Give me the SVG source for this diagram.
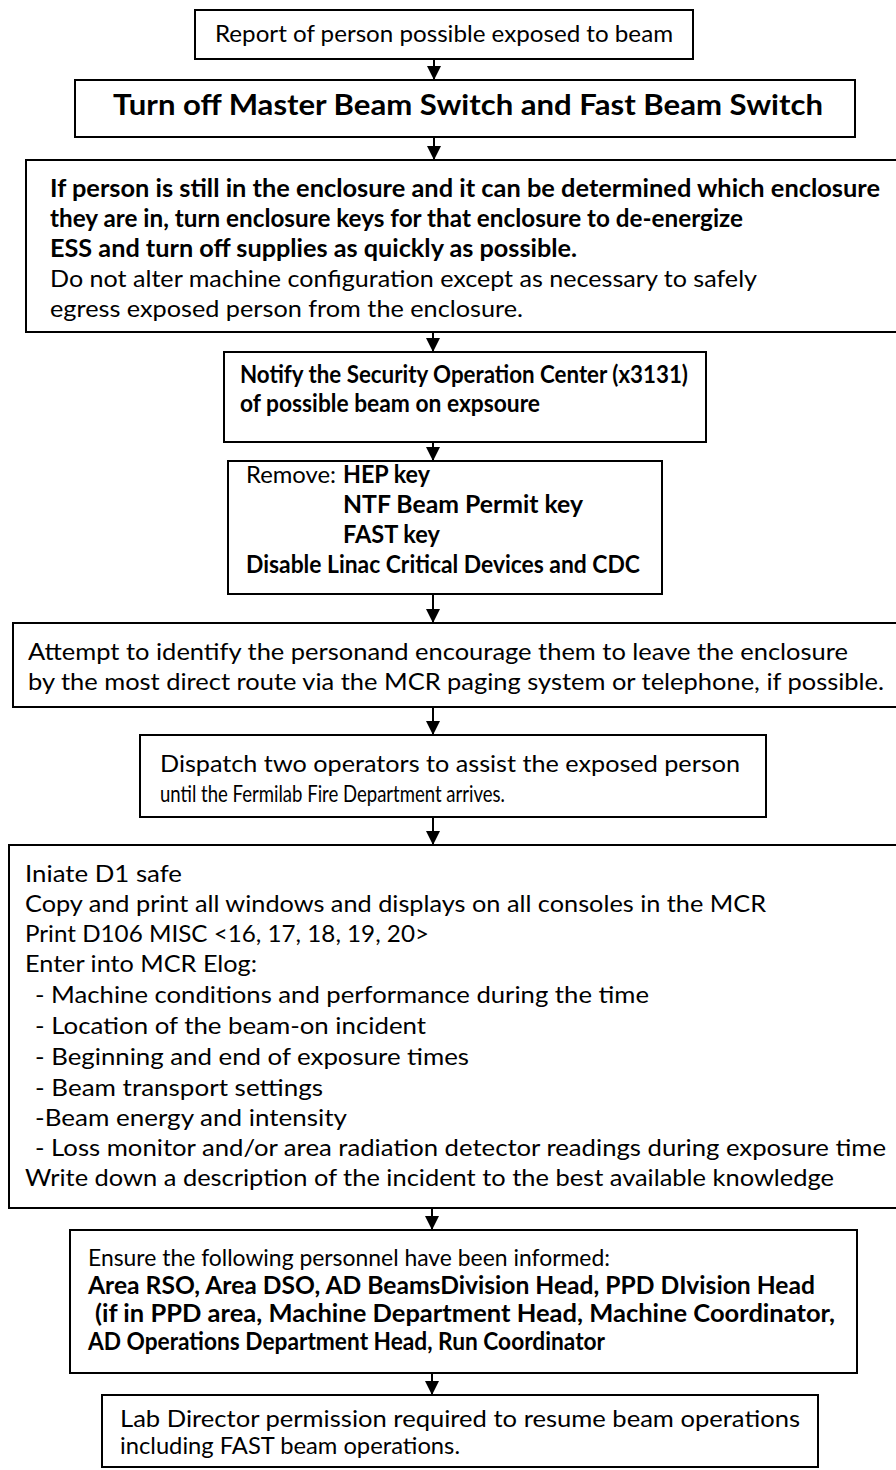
<svg xmlns="http://www.w3.org/2000/svg" width="896" height="1470" viewBox="0 0 896 1470">
<defs>
<style>
.box{fill:#fff;stroke:#000;stroke-width:2}
.t{font-family:Lato,"Liberation Sans",sans-serif;font-size:24px;fill:#000}
.b{font-weight:bold}
.big{font-size:28px}
.con line{stroke:#000;stroke-width:2}
</style>
<marker id="ah" markerUnits="userSpaceOnUse" markerWidth="14" markerHeight="14" viewBox="0 0 14 14" refX="14" refY="7" orient="auto">
<path d="M0,0 L14,7 L0,14 z" fill="#000"/>
</marker>
</defs>
<rect width="896" height="1470" fill="#fff"/>
<g id="connectors" class="con">
<line x1="434" y1="59" x2="434" y2="80" marker-end="url(#ah)"/>
<line x1="434" y1="137" x2="434" y2="160" marker-end="url(#ah)"/>
<line x1="433" y1="332" x2="433" y2="352" marker-end="url(#ah)"/>
<line x1="433" y1="442" x2="433" y2="461" marker-end="url(#ah)"/>
<line x1="433" y1="594" x2="433" y2="623" marker-end="url(#ah)"/>
<line x1="433" y1="707" x2="433" y2="735" marker-end="url(#ah)"/>
<line x1="433" y1="817" x2="433" y2="845" marker-end="url(#ah)"/>
<line x1="432" y1="1208" x2="432" y2="1230" marker-end="url(#ah)"/>
<line x1="432" y1="1373" x2="432" y2="1395" marker-end="url(#ah)"/>
</g>
<g id="n1">
<rect class="box" x="195" y="10" width="498" height="49"/>
<text class="t" x="215" y="42" textLength="458" lengthAdjust="spacingAndGlyphs">Report of person possible exposed to beam</text>
</g>
<g id="n2">
<rect class="box" x="75" y="80" width="780" height="57"/>
<text class="t b big" x="113" y="115" textLength="710" lengthAdjust="spacingAndGlyphs">Turn off Master Beam Switch and Fast Beam Switch</text>
</g>
<g id="n3">
<rect class="box" x="26" y="160" width="880" height="172"/>
<text class="t b" x="50" y="197" textLength="830" lengthAdjust="spacingAndGlyphs">If person is still in the enclosure and it can be determined which enclosure</text>
<text class="t b" x="50" y="227" textLength="693" lengthAdjust="spacingAndGlyphs">they are in, turn enclosure keys for that enclosure to de-energize</text>
<text class="t b" x="50" y="257" textLength="527" lengthAdjust="spacingAndGlyphs">ESS and turn off supplies as quickly as possible.</text>
<text class="t" x="50" y="287" textLength="707" lengthAdjust="spacingAndGlyphs">Do not alter machine configuration except as necessary to safely</text>
<text class="t" x="50" y="317" textLength="473" lengthAdjust="spacingAndGlyphs">egress exposed person from the enclosure.</text>
</g>
<g id="n4">
<rect class="box" x="224" y="352" width="482" height="90"/>
<text class="t b" x="240" y="383" textLength="448" lengthAdjust="spacingAndGlyphs">Notify the Security Operation Center (x3131)</text>
<text class="t b" x="240" y="412" textLength="300" lengthAdjust="spacingAndGlyphs">of possible beam on expsoure</text>
</g>
<g id="n5">
<rect class="box" x="228" y="461" width="434" height="133"/>
<text class="t" x="246" y="483" textLength="90" lengthAdjust="spacingAndGlyphs">Remove:</text>
<text class="t b" x="343" y="483" textLength="87" lengthAdjust="spacingAndGlyphs">HEP key</text>
<text class="t b" x="343" y="513" textLength="240" lengthAdjust="spacingAndGlyphs">NTF Beam Permit key</text>
<text class="t b" x="343" y="543" textLength="97" lengthAdjust="spacingAndGlyphs">FAST key</text>
<text class="t b" x="246" y="573" textLength="394" lengthAdjust="spacingAndGlyphs">Disable Linac Critical Devices and CDC</text>
</g>
<g id="n6">
<rect class="box" x="13" y="623" width="893" height="84"/>
<text class="t" x="28" y="660" textLength="820" lengthAdjust="spacingAndGlyphs">Attempt to identify the personand encourage them to leave the enclosure</text>
<text class="t" x="28" y="690" textLength="856" lengthAdjust="spacingAndGlyphs">by the most direct route via the MCR paging system or telephone, if possible.</text>
</g>
<g id="n7">
<rect class="box" x="140" y="735" width="626" height="82"/>
<text class="t" x="160" y="772" textLength="580" lengthAdjust="spacingAndGlyphs">Dispatch two operators to assist the exposed person</text>
<text class="t" x="160" y="802" textLength="345" lengthAdjust="spacingAndGlyphs">until the Fermilab Fire Department arrives.</text>
</g>
<g id="n8">
<rect class="box" x="9" y="845" width="897" height="363"/>
<text class="t" x="25" y="882" textLength="157" lengthAdjust="spacingAndGlyphs">Iniate D1 safe</text>
<text class="t" x="25" y="912" textLength="741" lengthAdjust="spacingAndGlyphs">Copy and print all windows and displays on all consoles in the MCR</text>
<text class="t" x="25" y="942" textLength="404" lengthAdjust="spacingAndGlyphs">Print D106 MISC &lt;16, 17, 18, 19, 20&gt;</text>
<text class="t" x="25" y="972" textLength="232" lengthAdjust="spacingAndGlyphs">Enter into MCR Elog:</text>
<text class="t" x="35" y="1003" textLength="614" lengthAdjust="spacingAndGlyphs">- Machine conditions and performance during the time</text>
<text class="t" x="35" y="1034" textLength="391" lengthAdjust="spacingAndGlyphs">- Location of the beam-on incident</text>
<text class="t" x="35" y="1065" textLength="434" lengthAdjust="spacingAndGlyphs">- Beginning and end of exposure times</text>
<text class="t" x="35" y="1096" textLength="288" lengthAdjust="spacingAndGlyphs">- Beam transport settings</text>
<text class="t" x="35" y="1126" textLength="312" lengthAdjust="spacingAndGlyphs">-Beam energy and intensity</text>
<text class="t" x="35" y="1156" textLength="851" lengthAdjust="spacingAndGlyphs">- Loss monitor and/or area radiation detector readings during exposure time</text>
<text class="t" x="25" y="1186" textLength="809" lengthAdjust="spacingAndGlyphs">Write down a description of the incident to the best available knowledge</text>
</g>
<g id="n9">
<rect class="box" x="70" y="1230" width="787" height="143"/>
<text class="t" x="88" y="1266" textLength="522" lengthAdjust="spacingAndGlyphs">Ensure the following personnel have been informed:</text>
<text class="t b" x="88" y="1294" textLength="727" lengthAdjust="spacingAndGlyphs">Area RSO, Area DSO, AD BeamsDivision Head, PPD DIvision Head</text>
<text class="t b" x="95" y="1322" textLength="740" lengthAdjust="spacingAndGlyphs">(if in PPD area, Machine Department Head, Machine Coordinator,</text>
<text class="t b" x="88" y="1350" textLength="517" lengthAdjust="spacingAndGlyphs">AD Operations Department Head, Run Coordinator</text>
</g>
<g id="n10">
<rect class="box" x="102" y="1395" width="716" height="72"/>
<text class="t" x="120" y="1427" textLength="680" lengthAdjust="spacingAndGlyphs">Lab Director permission required to resume beam operations</text>
<text class="t" x="120" y="1454" textLength="340" lengthAdjust="spacingAndGlyphs">including FAST beam operations.</text>
</g>
</svg>
